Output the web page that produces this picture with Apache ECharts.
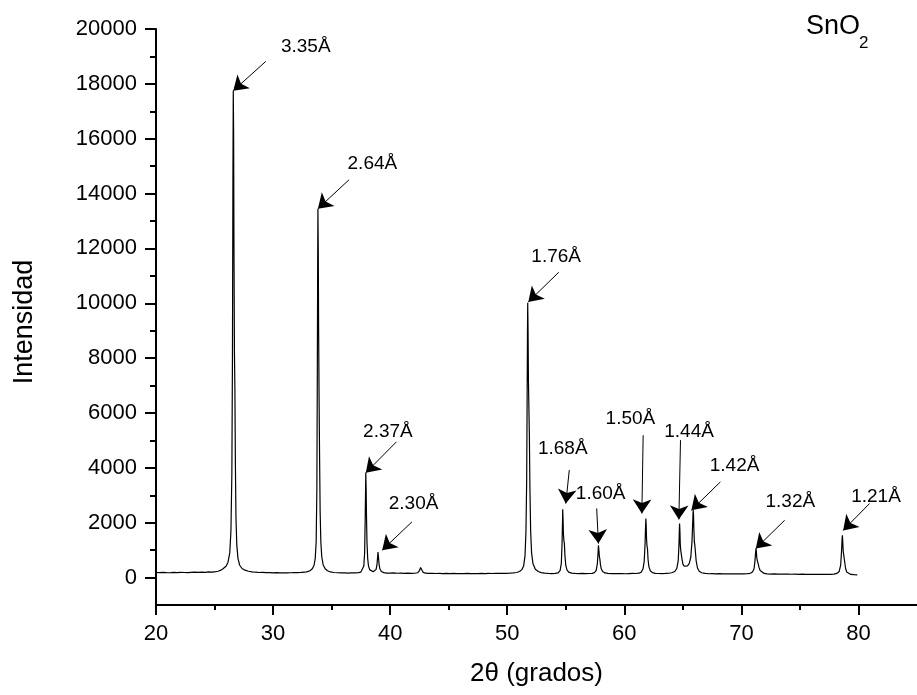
<!DOCTYPE html>
<html>
<head>
<meta charset="utf-8">
<script src="https://cdn.jsdelivr.net/npm/echarts@6/dist/echarts.min.js"></script>
<style>
  html, body { margin: 0; padding: 0; background: #ffffff; }
  #chart { width: 917px; height: 695px; }
</style>
</head>
<body>
<div id="chart"></div>
<script>
// X-ray diffraction scan of SnO2: [2θ (degrees), counts]
const scan = [
  [20.0,185],[20.3,178],[20.6,190],[20.9,182],[21.2,176],[21.5,188],[21.8,180],[22.1,192],[22.4,184],[22.7,178],
  [23.0,190],[23.3,196],[23.6,186],[23.9,198],[24.2,192],[24.5,205],[24.8,200],[25.1,215],[25.3,230],[25.5,260],
  [25.7,310],[25.85,360],[26.0,420],[26.15,560],[26.3,900],[26.4,1700],[26.48,3800],[26.53,8000],[26.57,14500],[26.6,17750],
  [26.63,16200],[26.66,12000],[26.7,8200],[26.74,6800],[26.78,4200],[26.83,2200],[26.9,1200],[27.0,700],[27.15,450],[27.35,330],
  [27.6,270],[27.9,230],[28.2,210],[28.5,195],[28.8,185],[29.1,190],[29.4,178],[29.7,182],[30.0,172],[30.3,180],
  [30.6,170],[30.9,176],[31.2,168],[31.5,175],[31.8,180],[32.1,178],[32.4,186],[32.7,195],[32.95,215],[33.15,250],
  [33.35,320],[33.5,450],[33.6,700],[33.68,1300],[33.74,3200],[33.78,7500],[33.81,11500],[33.83,13450],[33.86,12000],[33.89,9000],
  [33.93,6500],[33.97,4500],[34.02,2400],[34.08,1300],[34.16,750],[34.28,460],[34.45,320],[34.65,250],[34.9,205],[35.2,185],
  [35.5,175],[35.8,168],[36.1,172],[36.4,165],[36.7,170],[37.0,168],[37.3,178],[37.5,200],[37.65,260],[37.75,420],
  [37.82,900],[37.87,2200],[37.92,3820],[37.95,3200],[37.98,2200],[38.02,1300],[38.08,700],[38.15,420],[38.25,290],[38.4,230],
  [38.55,210],[38.7,240],[38.8,300],[38.87,450],[38.92,700],[38.96,930],[39.0,760],[39.05,500],[39.12,320],[39.25,220],
  [39.45,180],[39.7,165],[40.0,160],[40.3,168],[40.6,158],[40.9,162],[41.2,155],[41.5,160],[41.8,152],[42.1,158],
  [42.35,175],[42.5,250],[42.6,365],[42.68,300],[42.8,200],[43.0,160],[43.3,150],[43.6,156],[43.9,148],[44.2,152],
  [44.5,146],[44.8,150],[45.1,144],[45.4,150],[45.7,142],[46.0,148],[46.3,144],[46.6,150],[46.9,143],[47.2,148],
  [47.5,145],[47.8,150],[48.1,146],[48.4,152],[48.7,148],[49.0,155],[49.3,150],[49.6,158],[49.9,155],[50.2,162],
  [50.5,170],[50.8,185],[51.05,220],[51.25,290],[51.4,420],[51.52,800],[51.6,1700],[51.66,3500],[51.7,6500],[51.73,9000],
  [51.75,10020],[51.78,9000],[51.81,7200],[51.85,6200],[51.89,5200],[51.94,3200],[52.0,1700],[52.08,900],[52.2,500],[52.4,300],
  [52.65,220],[52.9,180],[53.2,160],[53.5,150],[53.8,146],[54.1,152],[54.35,170],[54.52,260],[54.62,520],[54.68,1200],
  [54.72,2000],[54.74,2490],[54.77,2100],[54.8,1600],[54.84,1350],[54.88,1250],[54.93,800],[55.0,450],[55.1,280],[55.25,200],
  [55.5,160],[55.8,150],[56.1,145],[56.4,150],[56.7,142],[57.0,148],[57.25,155],[57.45,180],[57.6,260],[57.7,520],
  [57.75,850],[57.79,1180],[57.83,1000],[57.87,760],[57.91,680],[57.96,480],[58.03,320],[58.15,220],[58.35,170],[58.6,150],
  [58.9,145],[59.2,148],[59.5,142],[59.8,146],[60.1,140],[60.4,145],[60.7,150],[61.0,148],[61.25,160],[61.45,200],
  [61.6,320],[61.7,600],[61.77,1200],[61.81,1800],[61.84,2150],[61.87,1900],[61.9,1400],[61.94,1150],[61.98,1050],[62.03,650],
  [62.1,400],[62.22,250],[62.4,180],[62.65,155],[62.9,148],[63.2,145],[63.5,150],[63.8,158],[64.05,175],[64.3,220],
  [64.48,330],[64.6,600],[64.66,1100],[64.7,1700],[64.72,1970],[64.75,1700],[64.78,1200],[64.82,1000],[64.86,950],[64.92,700],
  [65.0,500],[65.1,420],[65.25,400],[65.4,430],[65.55,520],[65.68,750],[65.78,1300],[65.84,2000],[65.88,2460],[65.91,2300],
  [65.94,1800],[65.98,1300],[66.02,1200],[66.07,950],[66.14,600],[66.25,350],[66.4,230],[66.6,175],[66.9,150],[67.2,140],
  [67.5,145],[67.8,138],[68.1,142],[68.4,136],[68.7,140],[69.0,135],[69.3,140],[69.6,134],[69.9,138],[70.2,135],
  [70.5,142],[70.75,155],[70.95,200],[71.08,320],[71.16,600],[71.21,900],[71.25,1070],[71.28,950],[71.32,700],[71.37,600],
  [71.43,520],[71.5,380],[71.6,260],[71.75,190],[71.95,150],[72.2,135],[72.5,128],[72.8,132],[73.1,125],[73.4,130],
  [73.7,124],[74.0,128],[74.3,122],[74.6,126],[74.9,120],[75.2,124],[75.5,118],[75.8,122],[76.1,116],[76.4,120],
  [76.7,115],[77.0,118],[77.3,114],[77.6,120],[77.9,125],[78.15,150],[78.35,220],[78.48,450],[78.56,1000],[78.6,1400],
  [78.63,1540],[78.66,1300],[78.7,950],[78.74,830],[78.78,780],[78.83,550],[78.9,330],[79.0,200],[79.15,140],[79.35,115],
  [79.6,105],[79.9,100]
];

// d-spacing labels of the indexed reflections
const peakLabels = ['3.35Å','2.64Å','2.37Å','2.30Å','1.76Å','1.68Å','1.60Å','1.50Å','1.44Å','1.42Å','1.32Å','1.21Å'];

// where each arrow points (2θ, counts)
const arrowTips = [
  [26.6,17750],[33.83,13450],[37.92,3820],[39.32,1000],[51.8,10050],[55.0,2700],
  [57.79,1240],[61.5,2340],[64.66,2120],[65.73,2456],[71.23,1060],[78.69,1720]
];

// where each arrow starts (2θ, counts)
const arrowTails = [
  [29.38,18820],[36.48,14500],[40.54,4950],[41.86,2030],[54.4,11130],[55.3,3920],
  [57.64,2520],[61.61,5190],[64.8,5010],[68.21,3490],[73.7,2090],[80.95,2700]
];

// label centres (2θ, counts)
const labelAnchors = [
  [32.79,19365],[38.48,15073],[39.81,5314],[42.0,2701],[54.18,11701],[54.74,4708],
  [57.98,3066],[60.52,5803],[65.53,5314],[69.42,4088],[74.18,2759],[81.5,2942]
];

const xMajorTicks = [20, 30, 40, 50, 60, 70, 80];
const xMinorTicks = [25, 35, 45, 55, 65, 75];
const yMajorTicks = [0, 2000, 4000, 6000, 8000, 10000, 12000, 14000, 16000, 18000, 20000];
const yMinorTicks = [1000, 3000, 5000, 7000, 9000, 11000, 13000, 15000, 17000, 19000];

const FONT = 'Liberation Sans, Arial, Helvetica, sans-serif';
const INK = '#000000';

const chart = echarts.init(document.getElementById('chart'), null, { renderer: 'canvas' });

const arrowLines = arrowTails.map((tail, i) => [
  { coord: tail },
  { coord: arrowTips[i] }
]);

const labelPoints = labelAnchors.map((pos, i) => ({ value: pos, name: peakLabels[i] }));

// axis used only to carry the short intermediate ticks
const minorAxis = (min, max, pos, len, ticks) => ({
  type: 'value', min: min, max: max, position: pos,
  axisLine: { show: false, onZero: false },
  axisLabel: { show: false },
  splitLine: { show: false },
  axisTick: { show: true, inside: false, length: len, customValues: ticks, lineStyle: { color: INK, width: 2 } }
});

chart.setOption({
  animation: false,
  backgroundColor: '#ffffff',
  grid: { left: 156, top: 29, width: 769, height: 576, containLabel: false },
  xAxis: [
    {
      type: 'value', min: 20, max: 85, position: 'bottom',
      name: '2θ (grados)', nameLocation: 'middle', nameGap: 56,
      nameTextStyle: { fontFamily: FONT, fontSize: 26, color: INK },
      axisLine: { show: true, onZero: false, lineStyle: { color: INK, width: 2 } },
      axisTick: { show: true, inside: false, length: 10, customValues: xMajorTicks, lineStyle: { color: INK, width: 2 } },
      axisLabel: { show: true, customValues: xMajorTicks, margin: 18, fontFamily: FONT, fontSize: 22, color: INK,
                   formatter: v => String(v) },
      splitLine: { show: false }
    },
    minorAxis(20, 85, 'bottom', 5, xMinorTicks)
  ],
  yAxis: [
    {
      type: 'value', min: -1000, max: 20000, position: 'left',
      name: 'Intensidad', nameLocation: 'middle', nameGap: 118,
      nameTextStyle: { fontFamily: FONT, fontSize: 27, color: INK, padding: [0, 10, 0, 0] },
      axisLine: { show: true, onZero: false, lineStyle: { color: INK, width: 2 } },
      axisTick: { show: true, inside: false, length: 11, customValues: yMajorTicks, lineStyle: { color: INK, width: 2 } },
      axisLabel: { show: true, customValues: yMajorTicks, margin: 19, fontFamily: FONT, fontSize: 22, color: INK,
                   formatter: v => String(v) },
      splitLine: { show: false }
    },
    minorAxis(-1000, 20000, 'left', 6, yMinorTicks)
  ],
  series: [
    {
      name: 'SnO2',
      type: 'line',
      xAxisIndex: 0, yAxisIndex: 0,
      data: scan,
      showSymbol: false,
      symbol: 'none',
      smooth: false,
      lineStyle: { color: INK, width: 1.2 },
      silent: true,
      markLine: {
        silent: true,
        symbol: ['none', 'arrow'],
        symbolSize: 14,
        label: { show: false },
        lineStyle: { color: INK, width: 1, type: 'solid' },
        emphasis: { disabled: true },
        data: arrowLines
      }
    },
    {
      name: 'labels',
      type: 'scatter',
      xAxisIndex: 0, yAxisIndex: 0,
      data: labelPoints,
      symbolSize: 0,
      silent: true,
      itemStyle: { opacity: 1 },
      label: {
        show: true,
        position: 'inside',
        formatter: p => p.name,
        fontFamily: FONT,
        fontSize: 19,
        color: INK,
        opacity: 1,
        textBorderWidth: 0
      }
    }
  ],
  graphic: [
    {
      type: 'text', left: 806, top: 13, silent: true,
      style: { text: 'SnO', fontFamily: FONT, fontSize: 27, fill: INK }
    },
    {
      type: 'text', left: 859, top: 35, silent: true,
      style: { text: '2', fontFamily: FONT, fontSize: 17, fill: INK }
    }
  ]
});
</script>
</body>
</html>
